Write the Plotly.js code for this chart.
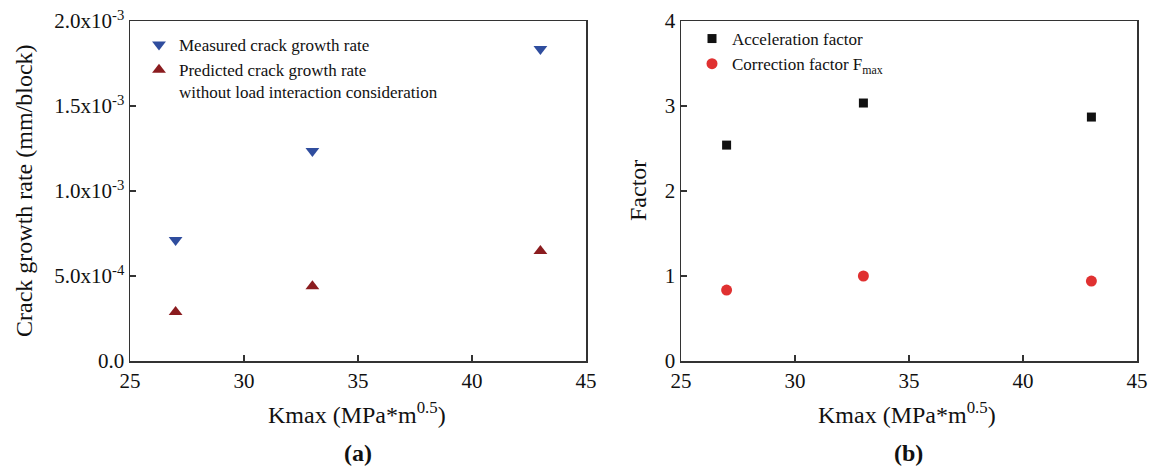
<!DOCTYPE html>
<html><head><meta charset="utf-8">
<script src="https://cdn.plot.ly/plotly-3.0.1.min.js"></script>
<style>body{margin:0;background:#fff}#c{width:1152px;height:474px}</style>
</head><body><div id="c"></div>
<script>
const kmax = [27, 33, 43];
const measuredRate = [0.000712, 0.001235, 0.001835];
const predictedRate = [0.000288, 0.00044, 0.000647];
const accelFactor = [2.54, 3.035, 2.87];
const correctionFactor = [0.835, 1.0, 0.94];
const xTicks = [25, 30, 35, 40, 45];
const yTicksA = [0, 0.0005, 0.001, 0.0015, 0.002];
const yTickTextA = ['0.0', '5.0x10<sup>-4</sup>', '1.0x10<sup>-3</sup>', '1.5x10<sup>-3</sup>', '2.0x10<sup>-3</sup>'];
const yTicksB = [0, 1, 2, 3, 4];

const F = 'Liberation Serif, Times New Roman, serif';
const traces = [
  {x: kmax, y: measuredRate, mode: 'markers', name: 'Measured crack growth rate',
   marker: {symbol: 'triangle-down', size: 12, color: '#2f4d9e'}, xaxis: 'x', yaxis: 'y', legend: 'legend'},
  {x: kmax, y: predictedRate, mode: 'markers', name: 'Predicted crack growth rate<br>without load interaction consideration',
   marker: {symbol: 'triangle-up', size: 12, color: '#8b1c1f'}, xaxis: 'x', yaxis: 'y', legend: 'legend'},
  {x: kmax, y: accelFactor, mode: 'markers', name: 'Acceleration factor',
   marker: {symbol: 'square', size: 9, color: '#111111'}, xaxis: 'x2', yaxis: 'y2', legend: 'legend2'},
  {x: kmax, y: correctionFactor, mode: 'markers', name: 'Correction factor F<sub>max</sub>',
   marker: {symbol: 'circle', size: 11, color: '#e03131'}, xaxis: 'x2', yaxis: 'y2', legend: 'legend2'}
];
const ax = {
  showline: true, linecolor: '#333', linewidth: 1.5, mirror: true,
  ticks: 'inside', ticklen: 6, tickwidth: 1.2, tickcolor: '#333',
  showgrid: false, zeroline: false,
  tickfont: {family: F, size: 21, color: '#111'}
};
const yDom = [1 - 361/474, 1 - 21/474];
const ann = (text, x, y, size, angle) => ({text, xref: 'paper', yref: 'paper', x: x/1152, y: 1 - y/474,
  xanchor: 'center', yanchor: 'middle', textangle: angle || 0, showarrow: false,
  font: {family: F, size, color: '#111'}});
const layout = {
  width: 1152, height: 474,
  margin: {l: 0, r: 0, t: 0, b: 0},
  paper_bgcolor: '#fff', plot_bgcolor: '#fff',
  font: {family: F, color: '#111'},
  xaxis: Object.assign({}, ax, {domain: [130/1152, 586/1152], range: [25, 45], tickvals: xTicks, anchor: 'y'}),
  yaxis: Object.assign({}, ax, {domain: yDom, range: [0, 0.002], tickvals: yTicksA, ticktext: yTickTextA, anchor: 'x'}),
  xaxis2: Object.assign({}, ax, {domain: [681/1152, 1137/1152], range: [25, 45], tickvals: xTicks, anchor: 'y2'}),
  yaxis2: Object.assign({}, ax, {domain: yDom, range: [0, 4], tickvals: yTicksB, anchor: 'x2'}),
  legend: {x: 139/1152, y: 1 - 27/474, xanchor: 'left', yanchor: 'top', bgcolor: 'rgba(0,0,0,0)',
    font: {family: F, size: 17, color: '#111'}, valign: 'top', tracegroupgap: 0, itemwidth: 30},
  legend2: {x: 692/1152, y: 1 - 21/474, xanchor: 'left', yanchor: 'top', bgcolor: 'rgba(0,0,0,0)',
    font: {family: F, size: 17, color: '#111'}, valign: 'middle', tracegroupgap: 0, itemwidth: 30},
  showlegend: true,
  annotations: [
    ann('Crack growth rate (mm/block)', 24, 191, 24, -90),
    ann('Factor', 638, 191, 24, -90),
    ann('Kmax (MPa*m<sup>0.5</sup>)', 357, 413, 24),
    ann('Kmax (MPa*m<sup>0.5</sup>)', 907, 413, 24),
    ann('<b>(a)</b>', 358, 453, 24),
    ann('<b>(b)</b>', 908, 453, 24)
  ]
};
Plotly.newPlot('c', traces, layout, {displayModeBar: false, staticPlot: true});
</script></body></html>
